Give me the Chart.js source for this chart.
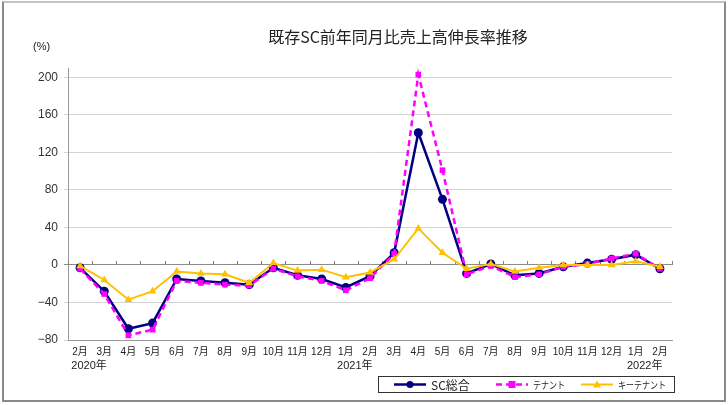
<!DOCTYPE html>
<html>
<head>
<meta charset="utf-8">
<script src="https://cdn.jsdelivr.net/npm/chart.js@4.4.1/dist/chart.umd.min.js"></script>
<style>
  body { margin: 0; background: #fff; }
  #wrap { position: relative; width: 728px; height: 405px; font-family: "Liberation Sans", "Noto Sans CJK JP", sans-serif; color: #222; }
  #frame { position: absolute; left: 2px; top: 1px; width: 720px; height: 397px; border: 2px solid #8a8a8a; border-top-color: #c4c4c4; pointer-events: none; }
  #title { position: absolute; left: 198px; top: 24px; width: 400px; text-align: center; font-size: 16px; font-family: "Noto Sans CJK JP", sans-serif; }
  #unit { position: absolute; left: 33px; top: 40px; font-size: 11px; }
  #legend { position: absolute; left: 378px; top: 376px; width: 295px; height: 15px; border: 1px solid #333; background: #fff; font-size: 11px; font-family: "Noto Sans CJK JP", sans-serif; }
  #legend span { position: absolute; top: 0; line-height: 15px; white-space: nowrap; }
  #legend span.narrow { font-size: 10px; transform: scaleX(0.8); transform-origin: left center; }
  #legend svg { position: absolute; top: 0; }
  canvas { position: absolute; left: 0; top: 0; }
</style>
</head>
<body>
<div id="wrap">
  <canvas id="c" width="728" height="405"></canvas>
  <div id="frame"></div>
  <div id="title">既存SC前年同月比売上高伸長率推移</div>
  <div id="unit">(%)</div>
  <div id="legend">
    <svg style="left:14px" width="34" height="15"><line x1="1" y1="7.5" x2="33" y2="7.5" stroke="#000080" stroke-width="2.5"/><circle cx="17" cy="7.5" r="3.5" fill="#000080"/></svg>
    <span style="left:52px;font-size:12px">SC総合</span>
    <svg style="left:116px" width="34" height="15"><line x1="1" y1="7.5" x2="33" y2="7.5" stroke="#ff00ff" stroke-width="2.5" stroke-dasharray="6,4"/><rect x="13.5" y="4" width="7" height="7" fill="#ff00ff"/></svg>
    <span class="narrow" style="left:154px">テナント</span>
    <svg style="left:201px" width="34" height="15"><line x1="1" y1="7.5" x2="33" y2="7.5" stroke="#ffc000" stroke-width="2"/><polygon points="17,3.5 21,10.5 13,10.5" fill="#ffc000"/></svg>
    <span class="narrow" style="left:239px">キーテナント</span>
  </div>
</div>
<script>
const months = ["2月", "3月", "4月", "5月", "6月", "7月", "8月", "9月", "10月", "11月", "12月", "1月",
  "2月", "3月", "4月", "5月", "6月", "7月", "8月", "9月", "10月", "11月", "12月", "1月", "2月"];
// year labels sit under these category indexes
const years = [[0, "2020年"], [11, "2021年"], [23, "2022年"]];

const scTotal = [-3, -28, -68, -62, -15, -17, -19, -21, -3, -11, -15, -24,
  -12, 13, 141, 70, -9, 1, -11, -9, -2, 2, 6, 11, -4];
const tenant = [-4, -31, -75, -69, -17, -19, -21, -22, -4, -12, -17, -27,
  -14, 12, 203, 101, -10, -1, -13, -10, -2, 1, 7, 12, -4];
const keyTenant = [-1, -16, -37, -28, -7, -9, -10, -19, 2, -6, -5, -13,
  -8, 6, 39, 13, -4, 1, -7, -3, 0, 0, 0, 4, -2];

const yTicks = [-80, -40, 0, 40, 80, 120, 160, 200];

// tick marks on the zero line between categories + year row under the months
const extras = {
  id: "extras",
  beforeDatasetsDraw(chart) {
    const ctx = chart.ctx, x = chart.scales.x, y = chart.scales.y;
    const y0 = y.getPixelForValue(0);
    const half = (x.getPixelForValue(1) - x.getPixelForValue(0)) / 2;
    ctx.save();
    ctx.strokeStyle = "#808080";
    ctx.lineWidth = 1;
    ctx.beginPath();
    for (let i = 0; i <= months.length; i++) {
      const px = Math.round(x.getPixelForValue(i) - half) + 0.5;
      ctx.moveTo(px, y0 - 4);
      ctx.lineTo(px, y0);
    }
    ctx.stroke();
    ctx.restore();
  },
  afterDraw(chart) {
    const ctx = chart.ctx, x = chart.scales.x;
    ctx.save();
    ctx.fillStyle = "#222";
    ctx.textBaseline = "middle";
    ctx.textAlign = "left";
    years.forEach(([i, label]) => {
      ctx.font = '10px "Liberation Sans", "Noto Sans CJK JP"';
      const w = ctx.measureText(months[i]).width;
      ctx.font = '11px "Liberation Sans", "Noto Sans CJK JP"';
      ctx.fillText(label, x.getPixelForValue(i) - w / 2 - 1, 366);
    });
    ctx.restore();
  }
};

new Chart(document.getElementById("c"), {
  type: "line",
  data: {
    labels: months,
    datasets: [
      {
        label: "SC総合", data: scTotal, order: 3,
        borderColor: "#000080", backgroundColor: "#000080", borderWidth: 2.5,
        pointStyle: "circle", pointRadius: 4.5, pointBorderWidth: 0
      },
      {
        label: "テナント", data: tenant, order: 2,
        borderColor: "#ff00ff", backgroundColor: "#ff00ff", borderWidth: 2.5, borderDash: [6, 4],
        pointStyle: "rect", pointRadius: 4, pointBorderWidth: 0
      },
      {
        label: "キーテナント", data: keyTenant, order: 1,
        borderColor: "#ffc000", backgroundColor: "#ffc000", borderWidth: 2,
        pointStyle: "triangle", pointRadius: 4.5, pointBorderWidth: 0
      }
    ]
  },
  options: {
    responsive: false,
    animation: false,
    events: [],
    layout: { padding: { left: 0, top: 68, right: 56, bottom: 0 } },
    plugins: { legend: { display: false }, title: { display: false }, tooltip: { enabled: false } },
    scales: {
      x: {
        offset: true,
        grid: { display: false, drawTicks: false, tickLength: 0 },
        border: { display: true, color: "#999", width: 1 },
        ticks: {
          autoSkip: false, maxRotation: 0, minRotation: 0, padding: 6,
          color: "#222", font: { size: 10, family: '"Liberation Sans", "Noto Sans CJK JP"' }
        },
        afterFit(s) { s.height = 65; }
      },
      y: {
        min: -80, max: 210,
        afterBuildTicks(s) { s.ticks = yTicks.map(v => ({ value: v })); },
        grid: {
          color: c => c.tick && c.tick.value === 0 ? "#8c8c8c" : "#d4d4d4",
          lineWidth: 1, tickLength: 4, drawTicks: true
        },
        border: { display: true, color: "#999", width: 1 },
        ticks: {
          padding: 6, color: "#333",
          font: { size: 12, family: '"Liberation Sans", sans-serif' },
          callback: v => v < 0 ? "\u2212" + Math.abs(v) : String(v)
        },
        afterFit(s) { s.width = 68; }
      }
    }
  },
  plugins: [extras]
});
</script>
</body>
</html>
